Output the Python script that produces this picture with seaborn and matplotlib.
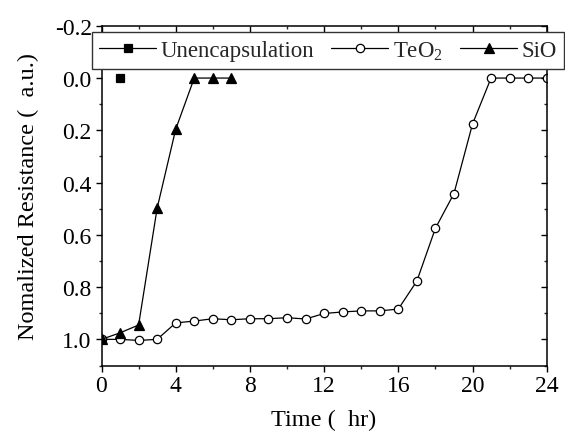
import matplotlib
matplotlib.use("Agg")
import matplotlib.pyplot as plt
from matplotlib.ticker import MultipleLocator
import seaborn as sns
import pandas as pd

# Normalized resistance vs. time for the three encapsulation cases
unencap_time = [1]
unencap_res = [0.0]

teo2_time = list(range(0, 25))
teo2_res = [1.0, 1.0, 1.004, 1.0, 0.937, 0.930, 0.921, 0.925, 0.921, 0.921,
            0.917, 0.922, 0.901, 0.895, 0.891, 0.891, 0.884, 0.777, 0.575,
            0.442, 0.176, 0.0, 0.0, 0.0, 0.0]

sio_time = [0, 1, 2, 3, 4, 5, 6, 7]
sio_res = [1.0, 0.975, 0.945, 0.498, 0.196, 0.0, 0.0, 0.0]

x_ticks = [0, 4, 8, 12, 16, 20, 24]
y_ticks = [-0.2, 0.0, 0.2, 0.4, 0.6, 0.8, 1.0]
y_tick_labels = ["-0.2", "0.0", "0.2", "0.4", "0.6", "0.8", "1.0"]

sns.set_theme(style="ticks")
plt.rcParams["font.family"] = ["Liberation Serif", "DejaVu Serif"]
plt.rcParams["mathtext.fontset"] = "custom"
plt.rcParams["mathtext.rm"] = "Liberation Serif"

fig = plt.figure(figsize=(5.65, 4.35), dpi=100)
ax = fig.add_axes([101.5 / 565, 1 - 366.5 / 435,
                   (546.7 - 101.5) / 565, (366.5 - 26.8) / 435])

series = [
    ("Unencapsulation", unencap_time, unencap_res, "s", "black", 5.5),
    ("TeO$_\\mathregular{2}$", teo2_time, teo2_res, "o", "white", 6),
    ("SiO", sio_time, sio_res, "^", "black", 7),
]

handles = []
for label, t, r, mk, face, ms in series:
    df = pd.DataFrame({"t": t, "r": r})
    sns.lineplot(data=df, x="t", y="r", ax=ax, color="black", lw=0.9,
                 marker=mk, markersize=ms, markerfacecolor=face,
                 markeredgecolor="black", markeredgewidth=0.9,
                 label=label, legend=False)
    handles.append(ax.lines[-1])

ax.set_xlim(0, 24)
ax.set_ylim(1.1, -0.2)
ax.set_xticks(x_ticks)
ax.set_yticks(y_ticks)
ax.set_yticklabels(y_tick_labels)
ax.xaxis.set_minor_locator(MultipleLocator(2))
ax.yaxis.set_minor_locator(MultipleLocator(0.1))

for s in ax.spines.values():
    s.set_linewidth(1.1)
    s.set_color("black")

ax.tick_params(axis="both", which="major", labelsize=17, colors="black",
               width=1.0, length=4.5, pad=2.5)
ax.tick_params(axis="both", which="minor", width=1.0, length=2.5)
ax.tick_params(axis="both", which="both", direction="out",
               top=True, right=True)
# ticks on the top and right spines point into the plot
for tk in ax.yaxis.get_major_ticks() + ax.yaxis.get_minor_ticks():
    tk.tick2line.set_marker(matplotlib.lines.TICKLEFT)
for tk in ax.xaxis.get_major_ticks() + ax.xaxis.get_minor_ticks():
    tk.tick2line.set_marker(matplotlib.lines.TICKDOWN)

ax.set_xlabel("Time (  hr)", fontsize=17.5, color="black", labelpad=9)
ax.set_ylabel("Nomalized Resistance (  a.u.)", fontsize=17.5, color="black",
              labelpad=11)

leg = fig.legend(handles, [s[0] for s in series], loc="upper left",
                 bbox_to_anchor=(92 / 565, 1 - 33 / 435, 472 / 565, 0),
                 bbox_transform=fig.transFigure, mode="expand", ncol=3,
                 fontsize=16.5, handlelength=2.5, handletextpad=0.2,
                 columnspacing=0.2, frameon=True, fancybox=False,
                 borderpad=0.3, borderaxespad=0)
leg.get_frame().set_edgecolor("#333333")
leg.get_frame().set_linewidth(1.0)
leg.get_frame().set_facecolor("white")
leg.get_frame().set_alpha(1)

fig.savefig("out.png", dpi=100)
